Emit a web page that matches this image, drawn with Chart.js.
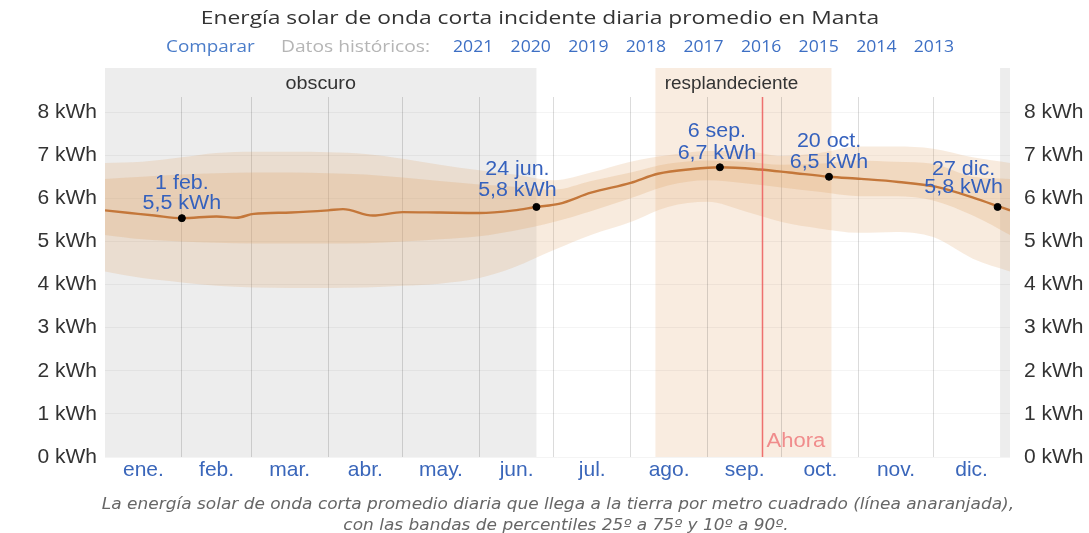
<!DOCTYPE html>
<html lang="es">
<head>
<meta charset="UTF-8" />
<title>Energía solar - Manta</title>
<script src="https://cdn.jsdelivr.net/npm/chart.js@4.4.1/dist/chart.umd.min.js"></script>
<style>
  html, body { margin: 0; padding: 0; background: #fff; }
  #wrap { width: 1089px; height: 533px; }
</style>
</head>
<body>
<div id="wrap"><canvas id="chart" width="1089" height="533"></canvas></div>
<script>
// days of the year (0 = 1 Jan)
const months = ["ene.", "feb.", "mar.", "abr.", "may.", "jun.", "jul.", "ago.", "sep.", "oct.", "nov.", "dic."];
const monthStarts = [0, 31, 59, 90, 120, 151, 181, 212, 243, 273, 304, 334, 365];
const yTicks = [0, 1, 2, 3, 4, 5, 6, 7, 8];
const years = ["2021", "2020", "2019", "2018", "2017", "2016", "2015", "2014", "2013"];

// percentile bands
const bandDays = [0, 15, 31, 45, 60, 75, 90, 105, 120, 135, 151, 165, 181, 196, 212, 227, 243, 258, 273, 288, 304, 319, 334, 350, 365];
const p90 = [6.82, 6.85, 6.95, 7.05, 7.08, 7.08, 7.07, 7.03, 6.92, 6.78, 6.65, 6.55, 6.42, 6.6, 6.85, 7.0, 7.1, 7.1, 6.98, 7.05, 7.2, 7.2, 7.15, 6.95, 6.82];
const p75 = [6.45, 6.5, 6.55, 6.58, 6.6, 6.6, 6.58, 6.55, 6.48, 6.4, 6.32, 6.27, 6.2, 6.4, 6.6, 6.8, 6.88, 6.85, 6.78, 6.8, 6.88, 6.85, 6.8, 6.5, 6.45];
const p25 = [5.15, 5.05, 5.0, 4.97, 4.95, 4.95, 4.95, 4.96, 5.0, 5.05, 5.12, 5.25, 5.45, 5.7, 6.0, 6.3, 6.42, 6.35, 6.25, 6.15, 6.05, 6.05, 5.95, 5.6, 5.15];
const p10 = [4.3, 4.15, 4.05, 3.97, 3.93, 3.92, 3.92, 3.93, 3.97, 4.02, 4.15, 4.4, 4.8, 5.15, 5.45, 5.8, 5.92, 5.7, 5.45, 5.3, 5.2, 5.22, 5.1, 4.6, 4.3];

// average line
const meanDays = [0, 10, 20, 31, 45, 53, 60, 75, 90, 96, 108, 120, 135, 151, 165, 174, 183, 196, 212, 223, 237, 248, 264, 276, 292, 305, 320, 335, 351, 361, 365];
const meanVals = [5.72, 5.66, 5.6, 5.54, 5.58, 5.55, 5.64, 5.67, 5.72, 5.75, 5.6, 5.68, 5.67, 5.66, 5.72, 5.8, 5.87, 6.13, 6.36, 6.57, 6.68, 6.72, 6.67, 6.6, 6.5, 6.45, 6.38, 6.27, 6.0, 5.8, 5.72];

// marked days
const markDays = [31, 174, 248, 292, 360];
const markNames = ["1 feb.", "24 jun.", "6 sep.", "20 oct.", "27 dic."];
const markVals = [5.54, 5.8, 6.72, 6.5, 5.8];

const darkRanges = [[0, 174], [361, 365]];
const brightRanges = [[222, 293]];
const nowDay = 265;

const toPts = (xs, ys) => xs.map((x, i) => ({ x: x, y: ys[i] }));

// label offsets of the marked days (pixels)
const markOffsets = [[0, -35, -15], [-19, -37, -16], [-3, -36, -14], [0, -35, -14], [-34, -37, -19]];

const mids = months.map((m, i) => (monthStarts[i] + monthStarts[i + 1]) / 2);
const xTickVals = mids.concat(monthStarts.slice(1, 12));

function drawText(ctx, text, x, y, font, color, align, sx) {
  ctx.save();
  ctx.font = font;
  ctx.fillStyle = color;
  ctx.textBaseline = "middle";
  ctx.textAlign = align || "center";
  ctx.translate(x, y);
  ctx.scale(sx || 1, 1);
  ctx.fillText(text, 0, 0);
  ctx.restore();
}

const decor = {
  id: "decor",
  beforeDraw(chart) {
    const ctx = chart.ctx;
    const xs = chart.scales.x;
    const area = chart.chartArea;
    ctx.save();
    ctx.fillStyle = "#ededed";
    darkRanges.forEach(r => {
      const a = xs.getPixelForValue(r[0]), b = xs.getPixelForValue(r[1]);
      ctx.fillRect(a, 68, b - a, area.bottom - 68);
    });
    ctx.fillStyle = "#f9ece0";
    brightRanges.forEach(r => {
      const a = xs.getPixelForValue(r[0]), b = xs.getPixelForValue(r[1]);
      ctx.fillRect(a, 68, b - a, area.bottom - 68);
    });
    ctx.restore();
    const d0 = darkRanges[0], b0 = brightRanges[0];
    drawText(ctx, "obscuro", (xs.getPixelForValue(d0[0]) + xs.getPixelForValue(d0[1])) / 2, 84, "18px 'Liberation Sans', Arial", "#333", "center", 1.1);
    drawText(ctx, "resplandeciente", (xs.getPixelForValue(b0[0]) + xs.getPixelForValue(b0[1])) / 2 - 12, 84, "18px 'Liberation Sans', Arial", "#333", "center", 1.05);

    // title and subtitle
    drawText(ctx, "Energía solar de onda corta incidente diaria promedio en Manta", 540, 19, "19px 'Open Sans'", "#333", "center", 1.2);
    drawText(ctx, "Comparar", 166, 47, "16px 'Open Sans'", "#4a7cc9", "left", 1.18);
    drawText(ctx, "Datos históricos:", 281, 47, "16px 'Open Sans'", "#b5b5b5", "left", 1.2);
    years.forEach((y, i) => drawText(ctx, y, 453 + i * 57.6, 47, "16px 'Open Sans'", "#3d6fc4", "left", 1.1));

    // caption
    drawText(ctx, "La energía solar de onda corta promedio diaria que llega a la tierra por metro cuadrado (línea anaranjada),", 558, 505, "italic 16px 'DejaVu Sans'", "#666", "center", 1.06);
    drawText(ctx, "con las bandas de percentiles 25º a 75º y 10º a 90º.", 566, 526, "italic 16px 'DejaVu Sans'", "#666", "center", 1.06);
  },
  afterDatasetsDraw(chart) {
    const ctx = chart.ctx;
    const xs = chart.scales.x, ys = chart.scales.y;
    const area = chart.chartArea;
    const nx = Math.round(xs.getPixelForValue(nowDay)) + 0.5;
    ctx.save();
    ctx.strokeStyle = "rgba(236,90,90,0.85)";
    ctx.lineWidth = 1.5;
    ctx.beginPath();
    ctx.moveTo(nx, area.top);
    ctx.lineTo(nx, area.bottom);
    ctx.stroke();
    ctx.restore();
    drawText(ctx, "Ahora", nx + 4, 441, "20px 'Liberation Sans', Arial", "#f08c8c", "left", 1.1);

    markDays.forEach((d, i) => {
      const px = xs.getPixelForValue(d), py = ys.getPixelForValue(markVals[i]);
      const o = markOffsets[i];
      const val = markVals[i].toFixed(1).replace(".", ",") + " kWh";
      drawText(ctx, markNames[i], px + o[0], py + o[1], "20px 'Liberation Sans', Arial", "#3561bd", "center", 1.07);
      drawText(ctx, val, px + o[0], py + o[2], "20px 'Liberation Sans', Arial", "#3561bd", "center", 1.07);
    });
  }
};

const axisFont = { family: "'Liberation Sans', Arial", size: 21 };

new Chart(document.getElementById("chart"), {
  type: "line",
  data: {
    datasets: [
      { data: toPts(bandDays, p10), borderWidth: 0, fill: false, pointRadius: 0, cubicInterpolationMode: "monotone", order: 2 },
      { data: toPts(bandDays, p90), borderWidth: 0, fill: "-1", backgroundColor: "rgba(225,165,105,0.22)", pointRadius: 0, cubicInterpolationMode: "monotone", order: 2 },
      { data: toPts(bandDays, p25), borderWidth: 0, fill: false, pointRadius: 0, cubicInterpolationMode: "monotone", order: 2 },
      { data: toPts(bandDays, p75), borderWidth: 0, fill: "-1", backgroundColor: "rgba(225,165,105,0.25)", pointRadius: 0, cubicInterpolationMode: "monotone", order: 2 },
      { data: toPts(meanDays, meanVals), borderColor: "#c4773a", borderWidth: 2.4, fill: false, pointRadius: 0, cubicInterpolationMode: "monotone", order: 1 },
      { type: "scatter", data: toPts(markDays, markVals), backgroundColor: "#000", borderColor: "#000", pointRadius: 3.5, order: 0 }
    ]
  },
  options: {
    responsive: false,
    animation: false,
    devicePixelRatio: 1,
    layout: { padding: { top: 97, left: 0, right: 0, bottom: 0 } },
    plugins: { legend: { display: false }, tooltip: { enabled: false } },
    scales: {
      x: {
        type: "linear",
        min: 0,
        max: 365,
        afterBuildTicks: s => { s.ticks = xTickVals.map(v => ({ value: v })); },
        afterFit: s => { s.height = 76; },
        ticks: {
          autoSkip: false,
          maxRotation: 0,
          padding: 1,
          color: "#3a66ba",
          font: axisFont,
          callback: (v, i) => (i < 12 ? months[i] : "")
        },
        grid: {
          drawTicks: false,
          color: c => (c.index >= 12 ? "rgba(0,0,0,0.14)" : "rgba(0,0,0,0)")
        },
        border: { display: false }
      },
      y: {
        position: "left",
        min: 0,
        max: 8.35,
        afterBuildTicks: s => { s.ticks = yTicks.map(v => ({ value: v })); },
        afterFit: s => { s.width = 105; },
        ticks: { callback: v => v + " kWh", color: "#333", font: axisFont, padding: 8 },
        grid: { drawTicks: false, color: "rgba(0,0,0,0.045)" },
        border: { display: false }
      },
      y2: {
        position: "right",
        min: 0,
        max: 8.35,
        afterBuildTicks: s => { s.ticks = yTicks.map(v => ({ value: v })); },
        afterFit: s => { s.width = 79; },
        ticks: { callback: v => v + " kWh", color: "#333", font: axisFont, padding: 6 },
        grid: { display: false },
        border: { display: false }
      }
    }
  },
  plugins: [decor]
});
</script>
</body>
</html>
